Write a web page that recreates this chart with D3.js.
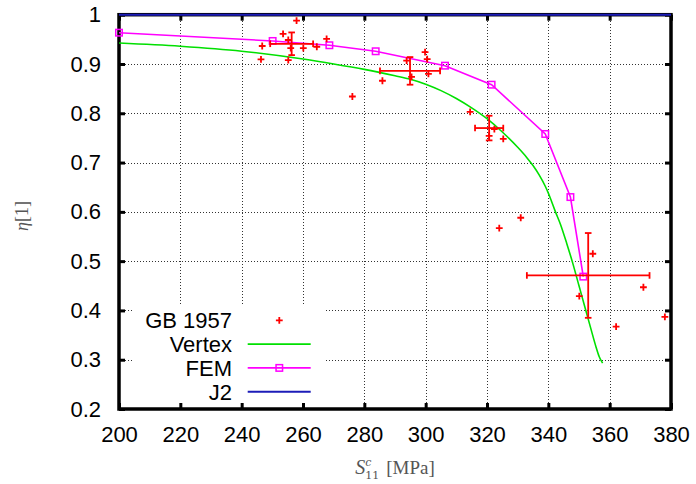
<!DOCTYPE html>
<html>
<head>
<meta charset="utf-8">
<script src="https://cdn.jsdelivr.net/npm/d3@7/dist/d3.min.js"></script>
<style>
  html, body { margin: 0; padding: 0; background: #fff; }
  svg { display: block; }
</style>
</head>
<body>
<svg id="chart" width="696" height="484"></svg>
<script>
// Tick values and labels
const xTicks = [200, 220, 240, 260, 280, 300, 320, 340, 360, 380];
const yTicks = [0.2, 0.3, 0.4, 0.5, 0.6, 0.7, 0.8, 0.9, 1.0];
const yTickLabels = ["0.2", "0.3", "0.4", "0.5", "0.6", "0.7", "0.8", "0.9", "1"];

// GB 1957 measurements
const gbX = [257.9, 253.5, 246.7, 246.3, 255.2, 255.2, 256.0, 260.1, 264.5, 267.7,
             299.8, 300.5, 293.8, 295.4, 300.9, 285.9, 276.1, 314.5,
             322.4, 320.7, 325.3, 324.0, 331.0,
             354.5, 350.1, 371.0, 362.1, 378.0];
const gbY = [0.988, 0.961, 0.9365, 0.9095, 0.908, 0.9487, 0.932, 0.932, 0.935, 0.951,
             0.924, 0.910, 0.907, 0.874, 0.880, 0.866, 0.834, 0.803,
             0.768, 0.754, 0.748, 0.567, 0.588,
             0.515, 0.429, 0.447, 0.367, 0.387];

// GB 1957 averaged points with error bars
const errX  = [256.3, 294.9, 320.7, 353.0];
const errY  = [0.941, 0.886, 0.770, 0.471];
const errDX = [7.0, 9.8, 4.6, 20.0];
const errDY = [0.023, 0.028, 0.025, 0.086];

// Vertex model curve
const vertexX = [200, 220, 240, 260, 270, 280, 290, 295, 300, 305, 310, 315, 320, 325, 330, 333, 335, 337, 339, 340,
                 341, 342.2, 344, 346, 348, 350, 352, 354, 355.5, 356.6, 357.7];
const vertexY = [0.9425, 0.936, 0.926, 0.910, 0.900, 0.889, 0.876, 0.869, 0.859, 0.846, 0.830, 0.811, 0.789, 0.762, 0.731, 0.710, 0.694, 0.675, 0.652, 0.638,
                 0.622, 0.602, 0.574, 0.536, 0.495, 0.450, 0.405, 0.360, 0.327, 0.306, 0.293];

// FEM results
const femX = [200.0, 250.1, 268.6, 283.7, 306.3, 321.5, 339.0, 347.2, 351.4];
const femY = [0.9635, 0.9467, 0.938, 0.9258, 0.8966, 0.858, 0.758, 0.630, 0.4686];

// J2 reference
const j2X = [200, 380];
const j2Y = [1.0, 1.0];

const legendNames = ["GB 1957", "Vertex", "FEM", "J2"];

const RED = "#ff0000", GREEN = "#00e000", MAGENTA = "#ff00ff", BLUE = "#1c1cb8";

const svg = d3.select("#chart");
const L = 119, R = 671, T = 14.7, B = 409;
const x = d3.scaleLinear().domain([200, 380]).range([L, R]);
const y = d3.scaleLinear().domain([0.2, 1.0]).range([B, T]);

const FONT = "'Liberation Sans', Arial, Helvetica, sans-serif";

// Grid lines (dotted)
const grid = svg.append("g").attr("class", "grid");
grid.append("g")
  .attr("transform", `translate(0,${B})`)
  .call(d3.axisBottom(x).tickValues(xTicks.slice(1, -1)).tickSize(-(B - T)).tickFormat(""))
  .call(g => g.select(".domain").remove());
grid.append("g")
  .attr("transform", `translate(${L},0)`)
  .call(d3.axisLeft(y).tickValues(yTicks.slice(1, -1)).tickSize(-(R - L)).tickFormat(""))
  .call(g => g.select(".domain").remove());
grid.selectAll("line")
  .attr("stroke", "#333")
  .attr("stroke-width", 1)
  .attr("stroke-dasharray", "1,2")
  .attr("shape-rendering", "crispEdges");

// Legend background
svg.append("rect")
  .attr("x", 132).attr("y", 306)
  .attr("width", 193).attr("height", B - 306)
  .attr("fill", "#fff");

// Axes (ticks inside, mirrored on all four sides)
const tickLen = 6;
const axB = svg.append("g").attr("transform", `translate(0,${B})`)
  .call(d3.axisBottom(x).tickValues(xTicks).tickSize(-tickLen).tickPadding(17).tickFormat(d3.format("d")));
const axT = svg.append("g").attr("transform", `translate(0,${T})`)
  .call(d3.axisTop(x).tickValues(xTicks).tickSize(-tickLen).tickFormat(""));
const axLft = svg.append("g").attr("transform", `translate(${L},0)`)
  .call(d3.axisLeft(y).tickValues(yTicks).tickSize(-tickLen).tickPadding(18)
    .tickFormat((d, i) => yTickLabels[i]));
const axRt = svg.append("g").attr("transform", `translate(${R},0)`)
  .call(d3.axisRight(y).tickValues(yTicks).tickSize(-tickLen).tickFormat(""));

[axB, axT, axLft, axRt].forEach(a => {
  a.select(".domain").remove();
  a.selectAll(".tick line").attr("stroke", "#000").attr("stroke-width", 3);
  a.selectAll("text").attr("fill", "#000").attr("font-family", FONT).attr("font-size", 22);
});

// Plot border
svg.append("rect")
  .attr("x", L).attr("y", T).attr("width", R - L).attr("height", B - T)
  .attr("fill", "none").attr("stroke", "#000").attr("stroke-width", 3.5);

// Axis titles
svg.append("text")
  .attr("x", 395).attr("y", 474)
  .attr("text-anchor", "middle")
  .attr("font-family", "'DejaVu Serif', 'Liberation Serif', serif")
  .attr("font-size", 16).attr("fill", "#555")
  .call(t => {
    t.append("tspan").attr("font-style", "italic").attr("font-family", "'Liberation Serif', serif").attr("font-size", 20).text("S");
    t.append("tspan").attr("font-style", "italic").attr("font-size", 11).attr("dy", -8).text("c");
    t.append("tspan").attr("font-size", 11).attr("dx", -6).attr("dy", 13).text("11");
    t.append("tspan").attr("font-family", "'Liberation Serif', serif").attr("font-size", 19).attr("dx", 7).attr("dy", -5).text("[MPa]");
  });

svg.append("text")
  .attr("transform", "translate(28,216) rotate(-90)")
  .attr("text-anchor", "middle")
  .attr("font-family", "'Liberation Serif', serif")
  .attr("font-size", 18).attr("fill", "#555")
  .call(t => {
    t.append("tspan").attr("font-style", "italic").text("η");
    t.append("tspan").text("[1]");
  });

const line = d3.line().x(d => x(d[0])).y(d => y(d[1]));

// J2
svg.append("path")
  .datum(d3.zip(j2X, j2Y))
  .attr("d", line)
  .attr("fill", "none").attr("stroke", BLUE).attr("stroke-width", 2);

// Vertex
const smooth = d3.line().x(d => x(d[0])).y(d => y(d[1])).curve(d3.curveMonotoneX);
svg.append("path")
  .datum(d3.zip(vertexX, vertexY))
  .attr("d", smooth)
  .attr("fill", "none").attr("stroke", GREEN).attr("stroke-width", 1.6);

// FEM
svg.append("path")
  .datum(d3.zip(femX, femY))
  .attr("d", line)
  .attr("fill", "none").attr("stroke", MAGENTA).attr("stroke-width", 1.6);
const sq = 6.5;
svg.append("g").selectAll("rect")
  .data(d3.zip(femX, femY))
  .join("rect")
  .attr("x", d => x(d[0]) - sq / 2).attr("y", d => y(d[1]) - sq / 2)
  .attr("width", sq).attr("height", sq)
  .attr("fill", "none").attr("stroke", MAGENTA).attr("stroke-width", 1.5);

// Error bars
const cap = 3.3;
const eb = svg.append("g").attr("stroke", RED).attr("stroke-width", 1.8).attr("fill", "none");
d3.range(errX.length).forEach(i => {
  const cx = x(errX[i]), cy = y(errY[i]);
  const x0 = x(errX[i] - errDX[i]), x1 = x(errX[i] + errDX[i]);
  const y0 = y(errY[i] + errDY[i]), y1 = y(errY[i] - errDY[i]);
  eb.append("line").attr("x1", x0).attr("x2", x1).attr("y1", cy).attr("y2", cy);
  eb.append("line").attr("x1", cx).attr("x2", cx).attr("y1", y0).attr("y2", y1);
  eb.append("line").attr("x1", x0).attr("x2", x0).attr("y1", cy - cap).attr("y2", cy + cap);
  eb.append("line").attr("x1", x1).attr("x2", x1).attr("y1", cy - cap).attr("y2", cy + cap);
  eb.append("line").attr("x1", cx - cap).attr("x2", cx + cap).attr("y1", y0).attr("y2", y0);
  eb.append("line").attr("x1", cx - cap).attr("x2", cx + cap).attr("y1", y1).attr("y2", y1);
});

// Plus markers
const pl = 3.4;
const plusPath = (px, py) => `M${px - pl},${py}H${px + pl}M${px},${py - pl}V${py + pl}`;
svg.append("g").selectAll("path")
  .data(d3.zip(gbX, gbY))
  .join("path")
  .attr("d", d => plusPath(x(d[0]), y(d[1])))
  .attr("stroke", RED).attr("stroke-width", 1.8).attr("fill", "none");

// Legend
const legY0 = 320.3, legDY = 23.8;
const lg = svg.append("g");
legendNames.forEach((name, i) => {
  const ly = legY0 + i * legDY;
  lg.append("text")
    .attr("x", 232).attr("y", ly + 7.9)
    .attr("text-anchor", "end")
    .attr("font-family", FONT).attr("font-size", 22).attr("fill", "#000")
    .text(name);
});
lg.append("path").attr("d", plusPath(279.3, legY0))
  .attr("stroke", RED).attr("stroke-width", 1.8);
lg.append("line").attr("x1", 247.7).attr("x2", 310.7)
  .attr("y1", legY0 + legDY).attr("y2", legY0 + legDY)
  .attr("stroke", GREEN).attr("stroke-width", 1.6);
lg.append("line").attr("x1", 247.7).attr("x2", 310.7)
  .attr("y1", legY0 + 2 * legDY).attr("y2", legY0 + 2 * legDY)
  .attr("stroke", MAGENTA).attr("stroke-width", 1.6);
lg.append("rect").attr("x", 279.3 - sq / 2).attr("y", legY0 + 2 * legDY - sq / 2)
  .attr("width", sq).attr("height", sq)
  .attr("fill", "none").attr("stroke", MAGENTA).attr("stroke-width", 1.5);
lg.append("line").attr("x1", 247.7).attr("x2", 310.7)
  .attr("y1", legY0 + 3 * legDY).attr("y2", legY0 + 3 * legDY)
  .attr("stroke", BLUE).attr("stroke-width", 2);
</script>
</body>
</html>
